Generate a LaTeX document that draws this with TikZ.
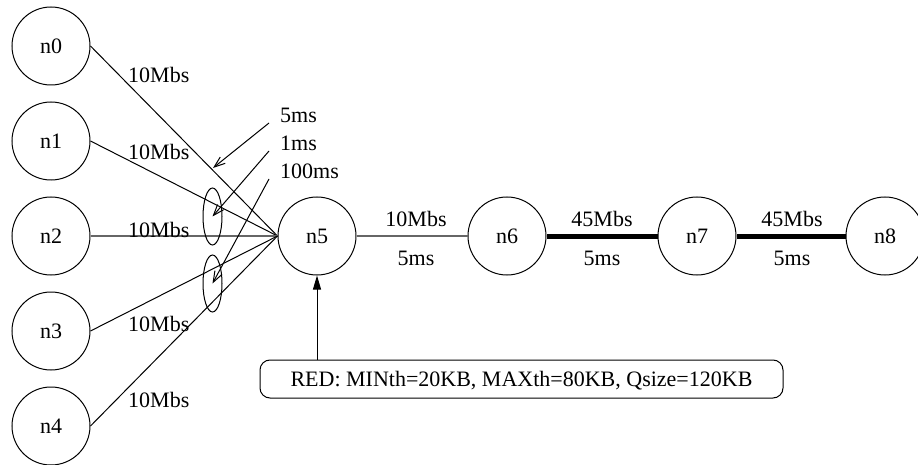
\documentclass[tikz,border=0pt]{standalone}
\usepackage{fontspec}
\setmainfont{Liberation Serif}
\usetikzlibrary{arrows.meta,shapes.geometric}
\begin{document}
\begin{tikzpicture}[x=1pt,y=-1pt,
  nd/.style={circle,draw,line width=1pt,minimum size=78pt,inner sep=0pt,font=\fontsize{22}{26}\selectfont},
  lbl/.style={inner sep=0pt,font=\fontsize{22}{26}\selectfont},
  thinlink/.style={line width=1pt},
  graylink/.style={line width=1.6pt,draw=black!60},
  thicklink/.style={line width=5pt},
  note/.style={ellipse,draw,line width=1pt,minimum width=19pt,minimum height=57pt,inner sep=0pt},
  pointer/.style={line width=1pt,-{Straight Barb[length=11pt,width=8pt]}},
  redbox/.style={draw,line width=1pt,rounded corners=10pt,minimum width=523pt,minimum height=38pt,inner sep=0pt,text depth=0pt,font=\fontsize{22}{26}\selectfont}
]
\useasboundingbox (0,0) rectangle (918,465);

% nodes
\node[nd] (n0) at (51,46) {n0};
\node[nd] (n1) at (51,141) {n1};
\node[nd] (n2) at (51,236) {n2};
\node[nd] (n3) at (51,331) {n3};
\node[nd] (n4) at (51,426) {n4};
\node[nd] (n5) at (317,236) {n5};
\node[nd] (n6) at (507,236) {n6};
\node[nd] (n7) at (697,236) {n7};
\node[nd] (n8) at (885,236) {n8};

% links
\draw[thinlink] (n0.east) -- (n5.west);
\draw[thinlink] (n1.east) -- (n5.west);
\draw[graylink] (n2.east) -- (n5.west);
\draw[thinlink] (n3.east) -- (n5.west);
\draw[thinlink] (n4.east) -- (n5.west);
\draw[graylink] (n5.east) -- (n6.west);
\draw[thicklink] (n6.east) -- (n7.west);
\draw[thicklink] (n7.east) -- (n8.west);

% link labels
\node[lbl,anchor=base west] (b0) at (128,83) {10Mbs};
\node[lbl,anchor=base west] (b1) at (128,160) {10Mbs};
\node[lbl,anchor=base west] (b2) at (128,237) {10Mbs};
\node[lbl,anchor=base west] (b3) at (128,331) {10Mbs};
\node[lbl,anchor=base west] (b4) at (128,407) {10Mbs};
\node[lbl,anchor=base] (b56) at (416,226) {10Mbs};
\node[lbl,anchor=base] (d56) at (416,265) {5ms};
\node[lbl,anchor=base] (b67) at (602,226) {45Mbs};
\node[lbl,anchor=base] (d67) at (602,265) {5ms};
\node[lbl,anchor=base] (b78) at (792,226) {45Mbs};
\node[lbl,anchor=base] (d78) at (792,265) {5ms};

% delay annotations
\node[note] (e1) at (212.5,216.5) {};
\node[note] (e2) at (212.5,283.5) {};
\node[lbl,anchor=base west] (l5) at (280,123) {5ms};
\node[lbl,anchor=base west] (l1) at (280,151) {1ms};
\node[lbl,anchor=base west] (l100) at (280,179) {100ms};
\coordinate (s5) at (269,123);
\coordinate (s1) at (269,151);
\coordinate (s100) at (269,179);
\coordinate (t5) at (213,168);
\draw[pointer] (s5) -- (t5);
\draw[pointer] (s1) -- (e1.center);
\draw[pointer] (s100) -- (e2.center);

% RED box
\node[redbox] (red) at (521.5,379) {RED: MINth=20KB, MAXth=80KB, Qsize=120KB};
\draw[line width=1pt,-{Triangle[length=14pt,width=8pt]}] (n5 |- red.north) -- (n5.south);
\end{tikzpicture}
\end{document}
